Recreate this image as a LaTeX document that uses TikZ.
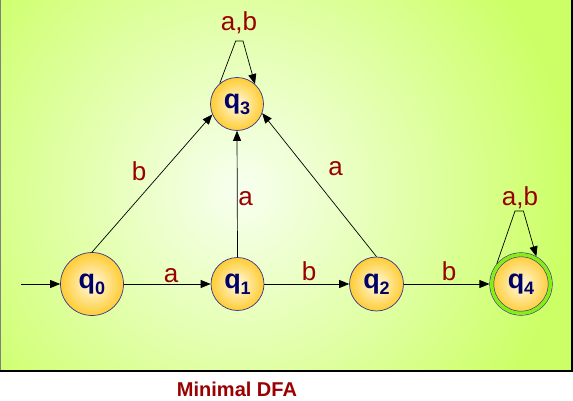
\documentclass[tikz,border=0pt]{standalone}
\usepackage{fontspec}
\setmainfont{Liberation Sans}
\usetikzlibrary{arrows.meta}

\definecolor{bgouter}{HTML}{CCFF66}
\definecolor{bginner}{HTML}{F8FFF0}
\definecolor{lblred}{HTML}{990000}
\definecolor{qnavy}{HTML}{000066}
\definecolor{qedge}{HTML}{333399}
\definecolor{qfill}{HTML}{FFCC33}
\definecolor{qlight}{HTML}{FFFBE6}
\definecolor{ringgreen}{HTML}{88EE11}

\newcommand{\qsub}[1]{\raisebox{-6pt}{\fontsize{18}{18}\selectfont #1}}

\tikzset{
  dfastate/.style={circle, draw=qedge, line width=0.7pt, inner color=qlight,
    outer color=qfill, text=qnavy, inner sep=0pt,
    font=\fontsize{27}{27}\selectfont\bfseries},
  finalstate/.style={dfastate, double=ringgreen, double distance=3.5pt,
    line width=0.6pt, outer sep=2.35pt},
  trans/.style={draw=black, line width=0.7pt, -{Triangle[length=10pt,width=8pt]}},
  lbl/.style={text=lblred, anchor=base, inner sep=0pt,
    font=\fontsize{26}{26}\selectfont},
}

\begin{document}
\begin{tikzpicture}[x=1pt, y=1pt]
		\useasboundingbox (0,0) rectangle (573,400);
		
		% background panel
		\begin{scope}
			\clip (0,29) rectangle (572,400);
			\fill[bgouter] (0,29) rectangle (572,400);
			\shade[inner color=bginner, outer color=bgouter] (240,210) circle (330);
		\end{scope}
		\draw[gray, line width=1.5pt] (0,29) -- (0,400);
		\draw[black, line width=1.2pt] (0,29) -- (572,29) -- (572,400);
		
		% states
		\node[dfastate, minimum size=63pt] (q0) at (92,116) {q\qsub{0}};
		\node[dfastate, minimum size=53pt] (q1) at (237.5,116) {q\qsub{1}};
		\node[dfastate, minimum size=54pt] (q2) at (376.5,116) {q\qsub{2}};
		\node[dfastate, minimum size=53pt] (q3) at (237,296) {q\qsub{3}};
		\node[finalstate, minimum size=58.5pt] (q4) at (521,116) {q\qsub{4}};
		
		\coordinate (start) at (21,116);
		\coordinate (t3l) at (235.7,359);
		\coordinate (t3r) at (243,359);
		\coordinate (t4l) at (515,189);
		\coordinate (t4r) at (523.4,189);
		
		% transitions
		\draw[trans] (start) -- (q0);
		\draw[trans] (q0) -- (q1);
		\draw[trans] (q1) -- (q2);
		\draw[trans] (q2) -- (q4);
		\draw[trans] (q0.north) -- (q3.203);
		\draw[trans] (q1.north) -- (q3.south);
		\draw[trans] (q2.north) -- (q3.340);
		\draw[trans] (q3.130) -- (t3l) -- (t3r) -- (q3.48);
		\draw[trans] (q4.140) -- (t4l) -- (t4r) -- (q4.61);
		
		% labels
		\node[lbl] (l01) at (171,118) {a};
		\node[lbl] (l12) at (309,120) {b};
		\node[lbl] (l24) at (449,120) {b};
		\node[lbl] (l03) at (139,220) {b};
		\node[lbl] (l13) at (245.6,195) {a};
		\node[lbl] (l23) at (335.5,225) {a};
		\node[lbl] (l33) at (239,369) {a,b};
		\node[lbl] (l44) at (520,195) {a,b};
		
		\node[text=lblred, anchor=base, inner sep=0pt,
		  font=\fontsize{20}{20}\selectfont\bfseries] (cap) at (237,4) {Minimal DFA};
	\end{tikzpicture}
\end{document}
